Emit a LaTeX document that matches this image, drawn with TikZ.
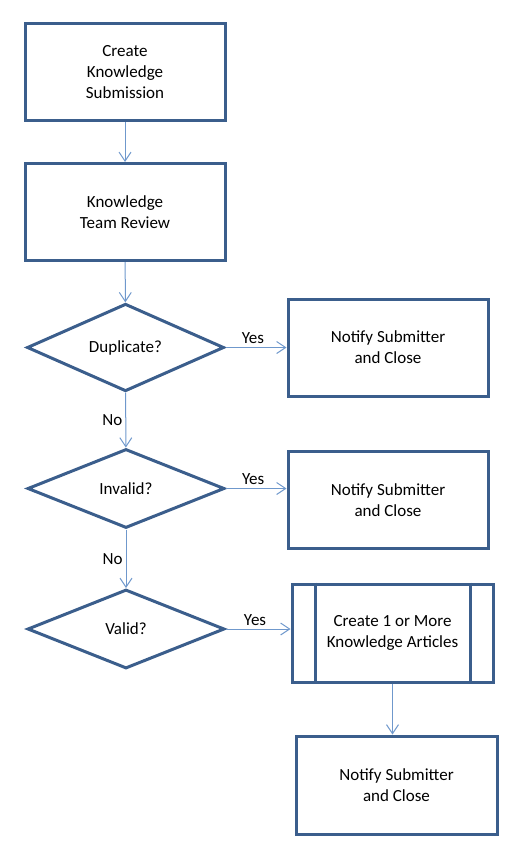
\documentclass[tikz,border=0pt]{standalone}
\usepackage{fontspec}
\setmainfont{Carlito}
\usetikzlibrary{shapes.geometric, arrows.meta}
\definecolor{boxblue}{HTML}{3B5E8C}
\definecolor{lineblue}{HTML}{6F98CC}

\begin{document}
\begin{tikzpicture}[x=1pt,y=1pt,
        box/.style={draw=boxblue, line width=3pt, rectangle, minimum width=200pt, minimum height=97pt, align=center, font=\fontsize{17}{21}\selectfont},
        decision/.style={draw=boxblue, line width=3pt, diamond, minimum width=197pt, minimum height=79pt, inner sep=0pt, font=\fontsize{17}{21}\selectfont},
        flow/.style={draw=lineblue, line width=1pt, -{Straight Barb[length=9pt,width=12pt]}},
        answer/.style={font=\fontsize{17}{21}\selectfont, inner sep=3pt}]
            \useasboundingbox (0,0) rectangle (532,-864);

            % main column
            \node[box] (submit) at (125,-72) {Create\\Knowledge\\Submission};
            \node[box] (review) at (125,-212) {Knowledge\\Team Review};
            \node[decision] (dup) at (125.5,-347.5) {Duplicate?};
            \node[decision] (invalid) at (126,-488.5) {Invalid?};
            \node[decision] (valid) at (126,-629) {Valid?};

            % right column
            \node[box] (notifyA) at (388,-347.5) {Notify Submitter\\and Close};
            \node[box] (notifyB) at (388,-500) {Notify Submitter\\and Close};
            \node[box, minimum width=201pt, minimum height=98pt] (articles) at (392.5,-633) {Create 1 or More\\Knowledge Articles};
            \node[box, minimum width=201pt, minimum height=98pt] (notifyC) at (396.5,-785) {Notify Submitter\\and Close};

            % side bars of the predefined process
            \draw[boxblue, line width=3pt] ([xshift=25pt]articles.north west) -- ([xshift=25pt]articles.south west);
            \draw[boxblue, line width=3pt] ([xshift=-24pt]articles.north east) -- ([xshift=-24pt]articles.south east);

            % arrows down
            \draw[flow] (submit) -- (review);
            \draw[flow] (review) -- (dup);
            \draw[flow] (dup) -- node[answer, left] {No} (invalid);
            \draw[flow] (invalid) -- node[answer, left] {No} (valid);
            \draw[flow] (articles.south) -- (articles.south |- notifyC.north);

            % arrows right
            \draw[flow] (dup.east) -- node[answer, above, pos=0.45] {Yes} (notifyA.west);
            \draw[flow] (invalid.east) -- node[answer, above, pos=0.45] {Yes} (invalid.east -| notifyB.west);
            \draw[flow] (valid.east) -- node[answer, above, pos=0.45] {Yes} (valid.east -| articles.west);

        \end{tikzpicture}
\end{document}
